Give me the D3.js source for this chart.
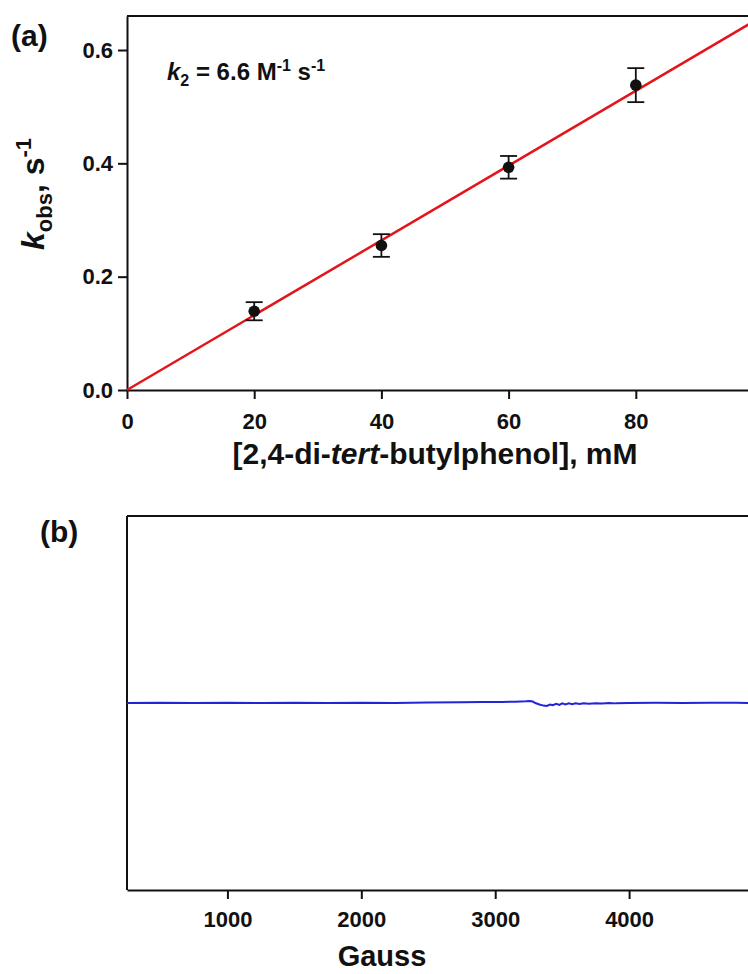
<!DOCTYPE html>
<html>
<head>
<meta charset="utf-8">
<script src="https://cdn.jsdelivr.net/npm/d3@7"></script>
<style>
  body { margin: 0; background: #fff; }
  text { font-family: "Liberation Sans", Arial, sans-serif; font-weight: bold; fill: #111; }
</style>
</head>
<body>
<div id="chart"></div>
<script>
// Panel (a): kinetics data
const concentration = [20, 40, 60, 80];          // mM
const kobs = [0.139, 0.255, 0.393, 0.538];        // s^-1
const kobsErr = [0.016, 0.020, 0.020, 0.030];
const fitSlope = 0.0066;                           // s^-1 per mM (6.6 M^-1 s^-1)
const fitRange = [0, 100];
const xTicksA = [0, 20, 40, 60, 80];
const yTicksA = [0, 0.2, 0.4, 0.6];

// Panel (b): EPR trace
const eprField = [250, 500, 750, 1000, 1250, 1500, 1750, 2000, 2250, 2500, 2750, 2900, 3050, 3150,
  3230, 3260, 3280, 3300, 3330, 3360, 3385, 3410, 3430, 3455, 3480, 3500, 3525, 3550, 3575, 3600,
  3630, 3660, 3700, 3750, 3800, 3850, 3900, 4000, 4200, 4400, 4600, 4800, 5000];
const eprSignal = [0, 0.002, 0, 0.002, 0, 0.002, 0, 0.002, 0, 0.003, 0.004, 0.005, 0.006, 0.007,
  0.009, 0.011, 0.008, 0, -0.008, -0.014, -0.016, -0.008, -0.012, -0.004, -0.010, -0.002, -0.008, -0.002, -0.006, -0.002,
  -0.005, -0.001, -0.004, -0.001, -0.003, 0, -0.002, 0, 0.001, 0, 0.002, 0.001, 0];
const xTicksB = [1000, 2000, 3000, 4000];

const W = 748, H = 974;
const left = 127, right = 763;

const svg = d3.select("#chart").append("svg")
  .attr("width", W).attr("height", H);

// ---------- panel (a) ----------
const xA = d3.scaleLinear().domain([0, 100]).range([left, right]);
const yA = d3.scaleLinear().domain([0, 0.66]).range([390, 16]);

const gA = svg.append("g");

// top border
gA.append("line")
  .attr("x1", left).attr("x2", right)
  .attr("y1", yA(0.66)).attr("y2", yA(0.66))
  .attr("stroke", "#111").attr("stroke-width", 2);

const xAxisA = gA.append("g")
  .attr("transform", `translate(0,${yA(0)})`)
  .call(d3.axisBottom(xA).tickValues(xTicksA).tickSize(9).tickSizeOuter(0).tickPadding(14).tickFormat(d3.format("d")));

const yAxisA = gA.append("g")
  .attr("transform", `translate(${left},0)`)
  .call(d3.axisLeft(yA).tickValues(yTicksA).tickSize(9).tickSizeOuter(0).tickPadding(5).tickFormat(d3.format(".1f")));

[xAxisA, yAxisA].forEach(ax => {
  ax.select(".domain").attr("stroke", "#111").attr("stroke-width", 2);
  ax.selectAll(".tick line").attr("stroke", "#111").attr("stroke-width", 2);
  ax.selectAll(".tick text").style("font-size", "22px").attr("fill", "#111");
});

// fit line
gA.append("line")
  .attr("x1", xA(fitRange[0])).attr("y1", yA(fitSlope * fitRange[0]))
  .attr("x2", xA(fitRange[1])).attr("y2", yA(fitSlope * fitRange[1]))
  .attr("stroke", "#e3151b").attr("stroke-width", 2.5);

// error bars + points
const pts = concentration.map((c, i) => ({ c, k: kobs[i], e: kobsErr[i] }));
const eb = gA.selectAll(".err").data(pts).enter().append("g").attr("class", "err")
  .attr("stroke", "#111").attr("stroke-width", 1.8);
eb.append("line")
  .attr("x1", d => xA(d.c)).attr("x2", d => xA(d.c))
  .attr("y1", d => yA(d.k - d.e)).attr("y2", d => yA(d.k + d.e));
eb.append("line")
  .attr("x1", d => xA(d.c) - 8.5).attr("x2", d => xA(d.c) + 8.5)
  .attr("y1", d => yA(d.k + d.e)).attr("y2", d => yA(d.k + d.e));
eb.append("line")
  .attr("x1", d => xA(d.c) - 8.5).attr("x2", d => xA(d.c) + 8.5)
  .attr("y1", d => yA(d.k - d.e)).attr("y2", d => yA(d.k - d.e));

gA.selectAll(".pt").data(pts).enter().append("circle")
  .attr("cx", d => xA(d.c)).attr("cy", d => yA(d.k))
  .attr("r", 5.8).attr("fill", "#111");

// annotation
const ann = gA.append("text").attr("x", 167).attr("y", 80)
  .attr("xml:space", "preserve").style("font-size", "24px");
ann.append("tspan").style("font-style", "italic").text("k");
ann.append("tspan").attr("dy", 6).style("font-size", "16px").text("2");
ann.append("tspan").attr("dy", -6).text(" = 6.6 M");
ann.append("tspan").attr("dy", -9).style("font-size", "16px").text("-1");
ann.append("tspan").attr("dy", 9).text(" s");
ann.append("tspan").attr("dy", -9).style("font-size", "16px").text("-1");

// axis titles
const xtA = gA.append("text").attr("x", 435).attr("y", 464)
  .attr("text-anchor", "middle").style("font-size", "30px");
xtA.append("tspan").text("[2,4-di-");
xtA.append("tspan").style("font-style", "italic").text("tert");
xtA.append("tspan").text("-butylphenol], mM");

const ytA = gA.append("text")
  .attr("transform", "translate(44,194) rotate(-90)")
  .attr("text-anchor", "middle").style("font-size", "32px");
ytA.append("tspan").style("font-style", "italic").text("k");
ytA.append("tspan").attr("dy", 8).style("font-size", "22px").text("obs");
ytA.append("tspan").attr("dy", -8).text(", s");
ytA.append("tspan").attr("dy", -13).style("font-size", "22px").text("-1");

svg.append("text").attr("x", 11).attr("y", 46).style("font-size", "30px").text("(a)");

// ---------- panel (b) ----------
const xB = d3.scaleLinear().domain([250, 5000]).range([left, right]);
const yB = d3.scaleLinear().domain([-1, 1]).range([890, 516]);

const gB = svg.append("g");

gB.append("line")
  .attr("x1", left).attr("x2", right)
  .attr("y1", yB(1)).attr("y2", yB(1))
  .attr("stroke", "#111").attr("stroke-width", 2);
gB.append("line")
  .attr("x1", left).attr("x2", left)
  .attr("y1", yB(1)).attr("y2", yB(-1))
  .attr("stroke", "#111").attr("stroke-width", 2);

const xAxisB = gB.append("g")
  .attr("transform", `translate(0,${yB(-1)})`)
  .call(d3.axisBottom(xB).tickValues(xTicksB).tickSize(9).tickSizeOuter(0).tickPadding(12).tickFormat(d3.format("d")));
xAxisB.select(".domain").attr("stroke", "#111").attr("stroke-width", 2);
xAxisB.selectAll(".tick line").attr("stroke", "#111").attr("stroke-width", 2);
xAxisB.selectAll(".tick text").style("font-size", "22px").attr("fill", "#111");

const line = d3.line().x((d, i) => xB(eprField[i])).y(d => yB(d));
gB.append("path")
  .datum(eprSignal)
  .attr("d", line)
  .attr("fill", "none")
  .attr("stroke", "#2323d8")
  .attr("stroke-width", 2);

gB.append("text").attr("x", 382).attr("y", 966)
  .attr("text-anchor", "middle").style("font-size", "29px").text("Gauss");

svg.append("text").attr("x", 40).attr("y", 542).style("font-size", "30px").text("(b)");
</script>
</body>
</html>
